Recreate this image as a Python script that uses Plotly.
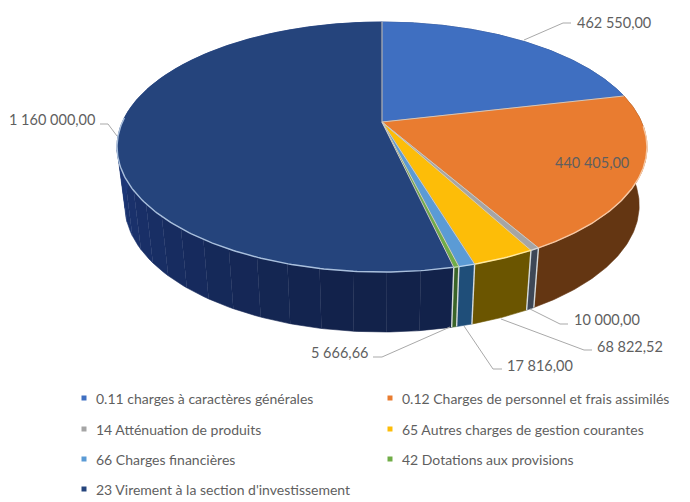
import numpy as np
import plotly.graph_objects as go

# ---- data ----
categories = ["0.11 charges à caractères générales",
              "0.12 Charges de personnel et frais assimilés",
              "14 Atténuation de produits",
              "65 Autres charges de gestion courantes",
              "66 Charges financières",
              "42 Dotations aux provisions",
              "23 Virement à la section d'investissement"]
values = [462550.00, 440405.00, 10000.00, 68822.52, 17816.00, 5666.66, 1160000.00]
top_colors = ["#3f6fc1", "#e97c30", "#a5a5a5", "#fdbd08", "#5b9bd5", "#70ad47", "#25447c"]
side_colors = ["#1f3a70", "#643612", "#3d4756", "#6b5500", "#1f4e79", "#3a6428", "#12224a"]
rim_colors = ["#8fa8dc", "#f6c9a6", "#d8d8d8", "#ffe9a0", "#b9d4ee", "#c5dfb4", "#a9bfdc"]

# ---- layout constants ----
W, H = 690, 502
CX = 382
TOP = dict(cy=122, a=259.6, b=120, k=0.2)
BOT = dict(cy=180, a=252, b=121.6, k=0.2)
label_font = dict(family="Lato, Carlito, sans-serif", size=14.5, color="#5f5f5f")
TXT = "#5f5f5f"
LEADER = "#a9a9a9"
label_pos = [(575, 22, "left"), (592, 162, "center"), (572, 319, "left"),
             (595, 346, "left"), (505, 365, "left"), (370, 352, "right"), (97, 119, "right")]
leaders = [[(524, 40), (563, 23), (571, 23)], None,
           [(530, 309), (560, 324), (568, 324)],
           [(501, 319), (584, 350), (592, 350)],
           [(464, 326), (493, 369), (502, 369)],
           [(450, 327), (382, 357), (373, 357)],
           [(117, 136), (108, 124), (100, 124)]]
legend_x = [84, 390]
legend_y = [398, 429, 459, 489]


def proj(deg, d):
    t = np.radians(deg)
    X, Y = np.sin(t), np.cos(t)
    w = 1 + d["k"] * Y
    return CX + d["a"] * X / w, d["cy"] - d["b"] * Y / w


def arc(a0, a1):
    return np.linspace(a0, a1, max(3, int(abs(a1 - a0) * 1.5) + 2))


def hex_scale(c, f):
    r, g, b = [int(c[i:i + 2], 16) for i in (1, 3, 5)]
    return "rgb(%d,%d,%d)" % tuple(min(255, int(v * f)) for v in (r, g, b))


def poly(xs, ys, color, line=None):
    return go.Scatter(x=list(xs), y=list(ys), mode="lines", fill="toself", fillcolor=color,
                      line=dict(color=line or color, width=0.6), hoverinfo="skip", showlegend=False)


def shade(deg):
    return 1.0 if deg <= 185 else 1 + 0.75 * min(1, (deg - 185) / 95)


fig = go.Figure()
total = sum(values)
edges = np.concatenate([[0], np.cumsum(values) / total * 360])

# walls
for i in range(len(values)):
    a0, a1 = edges[i], edges[i + 1]
    steps = np.arange(a0, a1, 6.0).tolist() + [a1] if side_colors[i] == "#12224a" else [a0, a1]
    for s0, s1 in zip(steps[:-1], steps[1:]):
        th = arc(s0, s1)
        ux, uy = proj(th, TOP)
        lx, ly = proj(th[::-1], BOT)
        col = hex_scale(side_colors[i], shade((s0 + s1) / 2))
        fig.add_trace(poly(np.r_[ux, lx], np.r_[uy, ly], col))

# pale vertical separators on the wall
for a in edges[1:-1]:
    if 90 < a < 270:
        ux, uy = proj(a, TOP)
        lx, ly = proj(a, BOT)
        fig.add_trace(go.Scatter(x=[ux, lx], y=[uy, ly], mode="lines",
                                 line=dict(color="#d5dadb", width=1.4), hoverinfo="skip", showlegend=False))

# top face
for i in range(len(values)):
    th = arc(edges[i], edges[i + 1])
    x, y = proj(th, TOP)
    fig.add_trace(poly(np.r_[CX, x, CX], np.r_[TOP["cy"], y, TOP["cy"]], top_colors[i]))

# radial separators
for a in edges[1:]:
    x, y = proj(a, TOP)
    fig.add_trace(go.Scatter(x=[CX, x], y=[TOP["cy"], y], mode="lines",
                             line=dict(color="#cfc8c0", width=1), hoverinfo="skip", showlegend=False))

# pale front rim
for i in range(len(values)):
    a0, a1 = max(edges[i], 92), min(edges[i + 1], 272)
    if a1 > a0:
        x, y = proj(arc(a0, a1), TOP)
        fig.add_trace(go.Scatter(x=x, y=y, mode="lines", line=dict(color=rim_colors[i], width=1.4),
                                 hoverinfo="skip", showlegend=False))

# leader lines
for pts in leaders:
    if pts:
        fig.add_trace(go.Scatter(x=[p[0] for p in pts], y=[p[1] for p in pts], mode="lines",
                                 line=dict(color=LEADER, width=1), hoverinfo="skip", showlegend=False))

# value labels
for v, (x, y, anchor) in zip(values, label_pos):
    txt = f"{v:,.2f}".replace(",", " ").replace(".", ",")
    fig.add_annotation(x=x, y=y, text=txt, showarrow=False, xanchor=anchor, yanchor="middle",
                       font=label_font)

# legend
cells = [(legend_x[j % 2], legend_y[j // 2]) for j in range(len(categories))]
for (x, y), name, c in zip(cells, categories, top_colors):
    fig.add_trace(go.Scatter(x=[x], y=[y], mode="markers", hoverinfo="skip", showlegend=False,
                             marker=dict(symbol="square", size=5, color=c)))
    fig.add_annotation(x=x + 10, y=y, text=name, showarrow=False, xanchor="left", yanchor="middle",
                       font=dict(family=label_font["family"], size=14, color=TXT))

fig.update_layout(width=W, height=H, margin=dict(l=0, r=0, t=0, b=0), paper_bgcolor="white",
                  plot_bgcolor="white", showlegend=False,
                  xaxis=dict(range=[0, W], visible=False, fixedrange=True),
                  yaxis=dict(range=[H, 0], visible=False, fixedrange=True))
fig.write_html("out.html", config={"displayModeBar": False},
               post_script="document.body.style.margin='0';document.body.style.overflow='hidden';")
